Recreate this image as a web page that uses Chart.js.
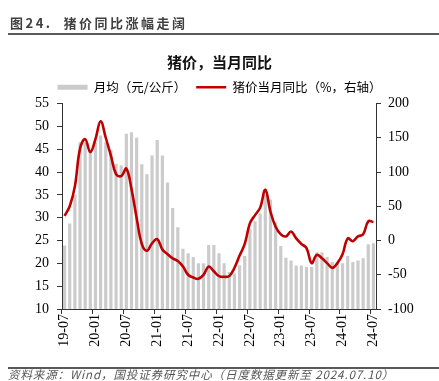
<!DOCTYPE html>
<html>
<head>
<meta charset="utf-8">
<script src="https://cdn.jsdelivr.net/npm/chart.js@4/dist/chart.umd.min.js"></script>
<style>
  html, body { margin: 0; padding: 0; background: #fff; }
  #wrap { position: relative; width: 439px; height: 381px; overflow: hidden; }
  #c { position: absolute; left: 0; top: 0; }
  #hdr { position: absolute; left: 10px; top: 14px; font: bold 13px "Noto Sans CJK SC", sans-serif; color: #404040; letter-spacing: 2.5px; white-space: nowrap; line-height: 18px; }
  #hline { position: absolute; left: 8px; right: 0; top: 33px; height: 2px; background: #595959; }
  #fline { position: absolute; left: 8px; right: 0; top: 367px; height: 2px; background: #595959; }
  #ftr { position: absolute; left: 8px; top: 368px; font: italic 11.5px "Noto Sans CJK SC", sans-serif; color: #555; white-space: nowrap; line-height: 13px; letter-spacing: 0.9px; }
</style>
</head>
<body>
<div id="wrap">
  <canvas id="c" width="439" height="381"></canvas>
  <div id="hdr">图24.&nbsp;&nbsp;猪价同比涨幅走阔</div>
  <div id="hline"></div>
  <div id="fline"></div>
  <div id="ftr">资料来源：Wind，国投证券研究中心（日度数据更新至 2024.07.10）</div>
</div>
<script>
// ---- data ----
const months = [
  '19-07','19-08','19-09','19-10','19-11','19-12',
  '20-01','20-02','20-03','20-04','20-05','20-06',
  '20-07','20-08','20-09','20-10','20-11','20-12',
  '21-01','21-02','21-03','21-04','21-05','21-06',
  '21-07','21-08','21-09','21-10','21-11','21-12',
  '22-01','22-02','22-03','22-04','22-05','22-06',
  '22-07','22-08','22-09','22-10','22-11','22-12',
  '23-01','23-02','23-03','23-04','23-05','23-06',
  '23-07','23-08','23-09','23-10','23-11','23-12',
  '24-01','24-02','24-03','24-04','24-05','24-06',
  '24-07'
];
const shownTicks = ['19-07','20-01','20-07','21-01','21-07','22-01','22-07','23-01','23-07','24-01','24-07'];
const monthlyAvg = [
  23.9, 28.7, 35.0, 46.5, 46.5, 44.8,
  46.5, 48.0, 46.5, 44.8, 41.8, 41.5,
  48.4, 48.7, 47.5, 41.7, 39.5, 43.6,
  47.0, 43.6, 37.7, 32.1, 27.9, 23.2,
  22.2, 21.4, 20.0, 20.0, 24.0, 24.0,
  22.2, 20.0, 18.1, 17.8, 19.6, 21.6,
  27.5, 29.2, 30.9, 35.0, 34.0, 29.0,
  23.8, 21.2, 20.6, 19.5, 19.5, 19.2,
  19.2, 22.4, 22.4, 21.4, 20.3, 20.3,
  20.0, 21.6, 20.3, 20.6, 21.1, 24.2,
  24.4
];
const yoy = [
  36, 50, 79, 134, 148, 129,
  148, 174, 150, 124, 97, 94,
  105, 75, 33, -5, -15, -4,
  2, -13, -20, -26, -30, -38,
  -50, -54, -56, -50, -38, -45,
  -52, -53, -52, -40, -22, -5,
  25, 37, 48, 74, 42, 20,
  9, 6, 13, 3, -5, -11,
  -33, -21, -26, -33, -40, -33,
  -20, 3, -1, 6, 9, 28,
  27
];
const seriesNames = ['月均（元/公斤）', '猪价当月同比（%，右轴）'];
const titleText = '猪价，当月同比';

const BAR = '#cbcbcb';
const RED = '#c00000';
const AXIS = '#333333';
const tickFont = { family: 'Liberation Serif', size: 14 };

new Chart(document.getElementById('c'), {
  data: {
    labels: months,
    datasets: [
      {
        type: 'bar', label: seriesNames[0], data: monthlyAvg, yAxisID: 'y',
        backgroundColor: BAR, borderWidth: 0, order: 1,
        categoryPercentage: 1.0, barPercentage: 0.62
      },
      {
        type: 'line', label: seriesNames[1], data: yoy, yAxisID: 'y2',
        borderColor: RED, borderWidth: 2.6, pointRadius: 0, tension: 0.4,
        fill: false, order: 0
      }
    ]
  },
  options: {
    responsive: false,
    devicePixelRatio: 1,
    animation: false,
    layout: { padding: { top: 42, left: 0, right: 0, bottom: 22 } },
    plugins: {
      tooltip: { enabled: false },
      title: {
        display: true, text: titleText, color: '#111',
        font: { family: 'Noto Sans CJK SC', size: 15, weight: 'bold', lineHeight: 1.2 },
        padding: { top: 11, bottom: 0 }
      },
      legend: {
        display: true,
        labels: {
          color: '#333',
          font: { family: 'Noto Sans CJK SC', size: 12.5 },
          usePointStyle: true, pointStyleWidth: 30, boxHeight: 5, padding: 10,
          generateLabels: () => [
            { text: seriesNames[0], fillStyle: BAR, strokeStyle: BAR, lineWidth: 0, pointStyle: 'rect', datasetIndex: 0, hidden: false },
            { text: seriesNames[1], fillStyle: RED, strokeStyle: RED, lineWidth: 2.6, pointStyle: 'line', datasetIndex: 1, hidden: false }
          ]
        }
      }
    },
    scales: {
      x: {
        type: 'category', offset: true,
        grid: {
          offset: true, drawOnChartArea: false, drawTicks: true, tickLength: 5,
          color: (ctx) => (ctx.index % 6 === 0 ? AXIS : 'rgba(0,0,0,0)')
        },
        border: { display: true, color: AXIS, width: 1 },
        ticks: {
          autoSkip: false, minRotation: 90, maxRotation: 90, padding: 0,
          color: '#000', font: tickFont,
          callback: function (v, i) { const l = months[i]; return shownTicks.includes(l) ? l : ''; }
        },
        afterFit: (s) => { s.height = 50; }
      },
      y: {
        position: 'left', min: 10, max: 55,
        grid: { drawOnChartArea: false, drawTicks: true, tickLength: 5, color: AXIS },
        border: { display: true, color: AXIS, width: 1 },
        ticks: { stepSize: 5, color: '#000', font: tickFont, padding: 8 },
        afterFit: (s) => { s.width = 62; }
      },
      y2: {
        position: 'right', min: -100, max: 200,
        grid: { drawOnChartArea: false, drawTicks: true, tickLength: 5, color: AXIS },
        border: { display: true, color: AXIS, width: 1 },
        ticks: { stepSize: 50, color: '#000', font: tickFont, padding: 7 },
        afterFit: (s) => { s.width = 63; }
      }
    }
  }
});
</script>
</body>
</html>
